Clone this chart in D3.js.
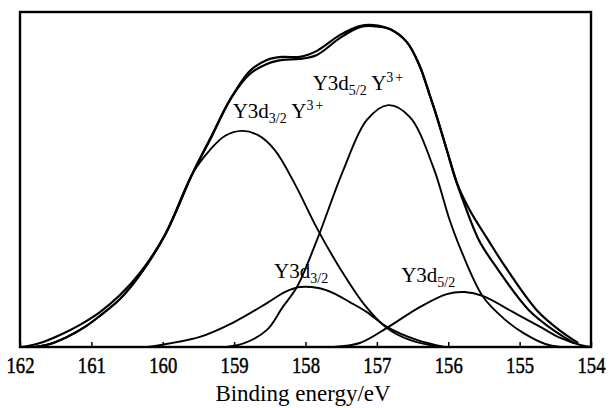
<!DOCTYPE html>
<html><head><meta charset="utf-8">
<script src="https://cdn.jsdelivr.net/npm/d3@7"></script>
<style>body{margin:0;background:#fff}</style>
</head><body><svg id="c" width="609" height="408"></svg>
<script>
// ---- data (binding energy eV, intensity a.u.) ----
const energyTicks = [162, 161, 160, 159, 158, 157, 156, 155, 154];

const measured = [[161.97,0],[161.72,12],[161.44,36],[161.16,66],[160.88,104],[160.60,155],[160.32,221],[159.97,334],[159.58,519],[159.31,633],[159.06,737],[158.78,824],[158.54,857],[158.32,866],[158.08,866],[157.84,884],[157.52,931],[157.24,958],[157.05,961],[156.82,949],[156.58,910],[156.40,839],[156.26,752],[156.16,687],[156.02,588],[155.88,490],[155.77,424],[155.57,319],[155.33,239],[154.87,110],[154.49,45],[154.24,12]];

const fitted = [[161.80,0],[161.58,9],[161.34,30],[161.09,60],[160.88,93],[160.60,143],[160.32,215],[159.97,334],[159.58,519],[159.31,630],[159.06,737],[158.78,815],[158.54,845],[158.32,857],[158.08,860],[157.84,872],[157.52,922],[157.24,955],[157.05,958],[156.82,949],[156.58,910],[156.40,839],[156.26,752],[156.16,687],[156.02,588],[155.88,490],[155.70,409],[155.44,319],[155.20,239],[154.76,110],[154.41,45],[154.18,12]];

const y3d32Y3 = [[161.80,0],[161.58,9],[161.34,30],[161.09,60],[160.88,93],[160.60,143],[160.32,215],[159.97,334],[159.58,519],[159.34,588],[159.13,630],[158.89,645],[158.67,633],[158.43,588],[158.15,487],[157.84,355],[157.52,236],[157.17,125],[156.86,57],[156.54,21],[156.12,0]];

const y3d52Y3 = [[159.10,0],[158.85,12],[158.54,51],[158.32,119],[158.12,179],[157.84,319],[157.47,528],[157.14,678],[156.84,722],[156.54,687],[156.21,537],[155.98,379],[155.84,299],[155.51,149],[155.20,81],[154.95,42],[154.64,9],[154.43,0]];

const y3d32 = [[160.21,0],[159.48,30],[159.02,72],[158.54,131],[158.29,164],[158.08,179],[157.82,176],[157.61,161],[157.38,134],[157.14,104],[156.86,60],[156.44,21],[156.05,0]];

const y3d52 = [[157.61,0],[157.24,12],[156.86,57],[156.40,119],[156.02,158],[155.77,164],[155.51,152],[155.09,104],[154.71,60],[154.43,27],[154.15,6],[154.01,0]];

const peakLabels = [
  {e:159.02, i:684, main:"Y3d", sub:"3/2", ion:" Y", sup:"3+"},
  {e:157.90, i:767, main:"Y3d", sub:"5/2", ion:" Y", sup:"3+"},
  {e:158.44, i:206, main:"Y3d", sub:"3/2", ion:"", sup:""},
  {e:156.66, i:194, main:"Y3d", sub:"5/2", ion:"", sup:""}
];
const xTitle = "Binding energy/eV";

// ---- chart ----
const W = 609, H = 408, m = {l:20, r:18, t:12, b:61};
const svg = d3.select("#c");
const x = d3.scaleLinear().domain([162, 154]).range([m.l, W - m.r]);
const y = d3.scaleLinear().domain([0, 1000]).range([H - m.b, m.t]);
const serif = "'Liberation Serif','Times New Roman',serif";

svg.append("clipPath").attr("id","clip").append("rect")
  .attr("x", m.l).attr("y", m.t).attr("width", W-m.l-m.r).attr("height", H-m.t-m.b);

const line = d3.line().x(d => x(d[0])).y(d => y(d[1])).curve(d3.curveCatmullRom.alpha(0.5));
const g = svg.append("g").attr("clip-path","url(#clip)");
[y3d32Y3, y3d52Y3, y3d32, y3d52].forEach(s => {
  g.append("path").attr("d", line(s)).attr("fill","none").attr("stroke","#000").attr("stroke-width",1.9);
});
g.append("path").attr("d", line(fitted)).attr("fill","none").attr("stroke","#000").attr("stroke-width",2.2);
g.append("path").attr("d", line(measured)).attr("fill","none").attr("stroke","#000").attr("stroke-width",2.2);

// axis
const ax = svg.append("g").attr("transform", `translate(0,${H - m.b})`)
  .call(d3.axisBottom(x).tickValues(energyTicks).tickFormat(d3.format("d")).tickSize(-5).tickSizeOuter(0).tickPadding(8));
ax.select(".domain").remove();
ax.selectAll(".tick line").attr("stroke","#000").attr("stroke-width",1.5);
ax.selectAll(".tick text").attr("font-family", serif).attr("font-size", 24).attr("fill","#000")
  .attr("stroke","#000").attr("stroke-width",0.5)
  .attr("y", 9).attr("dy","0.71em")
  .attr("transform","scale(0.78,1)");

// frame
svg.append("rect").attr("x", m.l).attr("y", m.t).attr("width", W-m.l-m.r).attr("height", H-m.t-m.b)
  .attr("fill","none").attr("stroke","#000").attr("stroke-width",2.4);

// x title
svg.append("text").attr("x", 303).attr("y", 401).attr("text-anchor","middle")
  .attr("font-family", serif).attr("font-size", 23).attr("fill","#000").text(xTitle);

// peak labels
peakLabels.forEach(p => {
  const t = svg.append("text").attr("x", x(p.e)).attr("y", y(p.i))
    .attr("font-family", serif).attr("font-size", 21).attr("fill","#000");
  t.append("tspan").text(p.main);
  t.append("tspan").attr("font-size", 14).attr("dy", 5).text(p.sub);
  if (p.ion) {
    t.append("tspan").attr("dy", -5).text(p.ion);
    t.append("tspan").attr("font-size", 14).attr("dy", -8).attr("letter-spacing", 2).text(p.sup);
  }
});
</script></body></html>
